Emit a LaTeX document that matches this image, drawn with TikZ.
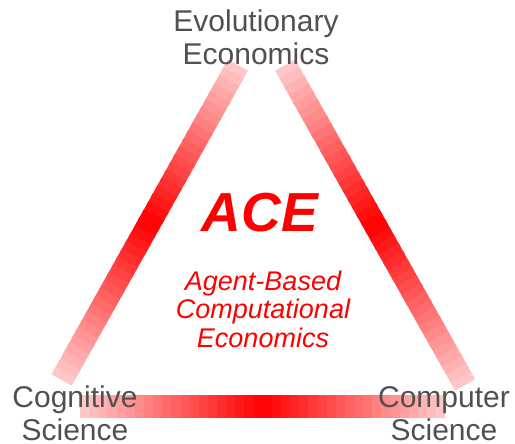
\documentclass[tikz,border=0pt]{standalone}
\usepackage{fontspec}
\setmainfont{Liberation Sans}
\usepackage{tikz}
\usetikzlibrary{calc}
\definecolor{acered}{HTML}{FF0000}
\definecolor{acepale}{HTML}{FFCCCC}
\definecolor{fieldgray}{HTML}{505050}
\tikzset{
  fieldlabel/.style={
    text=fieldgray, align=center, anchor=base, inner sep=0pt,
    font=\fontsize{30}{33}\selectfont
  },
  acetitle/.style={
    text=acered, anchor=base, inner sep=0pt,
    font=\fontsize{55}{60}\selectfont\bfseries\itshape
  },
  acesub/.style={
    text=acered, align=center, anchor=base, inner sep=0pt,
    font=\fontsize{27}{28.5}\selectfont\itshape
  },
  barseg/.style={line width=23pt, line cap=butt},
}

\begin{document}
\begin{tikzpicture}[x=1pt, y=-1pt]
\useasboundingbox (0,0) rectangle (515,444);

% Corners of the triangle
\coordinate (top) at (261.5,23);
\coordinate (left) at (47,406);
\coordinate (right) at (477,406);

% Fading bars, pale at the ends and pure red in the middle
\foreach \ca/\cb/\tfrom/\tto in {top/left/0.11/0.932, top/right/0.11/0.945, left/right/0.077/0.926} {
  \foreach \i in {0,...,39} {
    \pgfmathsetmacro\ta{\tfrom+(\tto-\tfrom)*\i/40}
    \pgfmathsetmacro\tb{min(\tto,\tfrom+(\tto-\tfrom)*(\i+1.4)/40)}
    \pgfmathsetmacro\p{100-100*abs(2*(\i+0.5)/40-1)}
    \draw[barseg, draw=acered!\p!acepale] ($(\ca)!\ta!(\cb)$) -- ($(\ca)!\tb!(\cb)$);
  }
}

% Fields at the corners (base = last line)
\node[fieldlabel] (evo) at (256,65) {Evolutionary\\Economics};
\node[fieldlabel] (cog) at (75,440) {Cognitive\\Science};
\node[fieldlabel] (comp) at (444,440) {Computer\\Science};

% Centre
\node[acetitle] (ace) at (260,232) {ACE};
\node[acesub] (acefull) at (263,347) {Agent-Based\\Computational\\Economics};

\end{tikzpicture}
\end{document}
